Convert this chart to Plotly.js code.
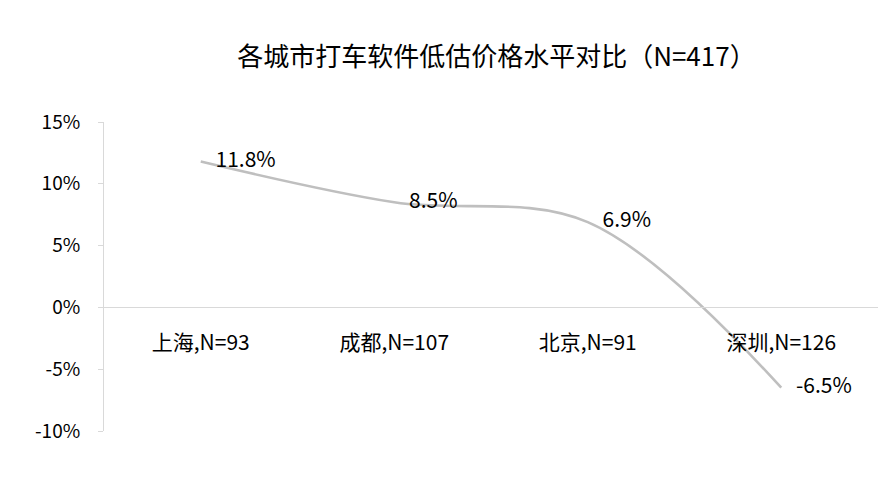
<!DOCTYPE html>
<html><head><meta charset="utf-8">
<script src="https://cdn.plot.ly/plotly-3.0.1.min.js"></script>
<style>body{margin:0;padding:0;background:#fff}#chart{width:888px;height:483px}</style>
</head><body><div id="chart"></div>
<script>
const categories = ["上海,N=93", "成都,N=107", "北京,N=91", "深圳,N=126"];
const values = [0.118, 0.085, 0.069, -0.065];
const labels = ["11.8%", "8.5%", "6.9%", "-6.5%"];
const yTicks = [-0.10, -0.05, 0, 0.05, 0.10, 0.15];
const yTickText = ["-10%", "-5%", "0%", "5%", "10%", "15%"];
const titleText = "各城市打车软件低估价格水平对比（N=417）";

const font = "'Noto Sans CJK SC', 'Noto Sans', sans-serif";
const trace = {
  x: categories, y: values, text: labels,
  type: "scatter", mode: "lines+markers+text",
  line: {color: "#BFBFBF", width: 2.6, shape: "spline", smoothing: 1},
  marker: {size: 22, color: "rgba(0,0,0,0)", line: {width: 0}},
  textposition: "middle right",
  textfont: {family: font, size: 21, color: "#000"},
  hoverinfo: "none", cliponaxis: false
};
const layout = {
  width: 888, height: 483,
  margin: {l: 104, r: 10, t: 122, b: 52},
  paper_bgcolor: "#fff", plot_bgcolor: "#fff",
  showlegend: false,
  font: {family: font, color: "#000"},
  title: {text: titleText, font: {family: font, size: 26, color: "#000"},
          xref: "container", yref: "container", x: 0.559, y: 0.882, xanchor: "center", yanchor: "middle"},
  xaxis: {
    type: "category", anchor: "free", position: 0.4,
    showline: true, linecolor: "#D9D9D9", linewidth: 1,
    showgrid: false, zeroline: false,
    ticks: "outside", ticklen: 16, tickcolor: "rgba(0,0,0,0)",
    tickfont: {family: font, size: 21, color: "#000"},
    range: [-0.5, 3.5]
  },
  yaxis: {
    range: [-0.10, 0.15], tickvals: yTicks, ticktext: yTickText,
    showline: true, linecolor: "#D9D9D9", linewidth: 1,
    showgrid: false, zeroline: false,
    ticks: "outside", ticklen: 5, tickcolor: "#D9D9D9",
    ticklabelstandoff: 14,
    tickfont: {family: font, size: 19, color: "#000"}
  }
};
Plotly.newPlot("chart", [trace], layout, {staticPlot: true});
</script></body></html>
